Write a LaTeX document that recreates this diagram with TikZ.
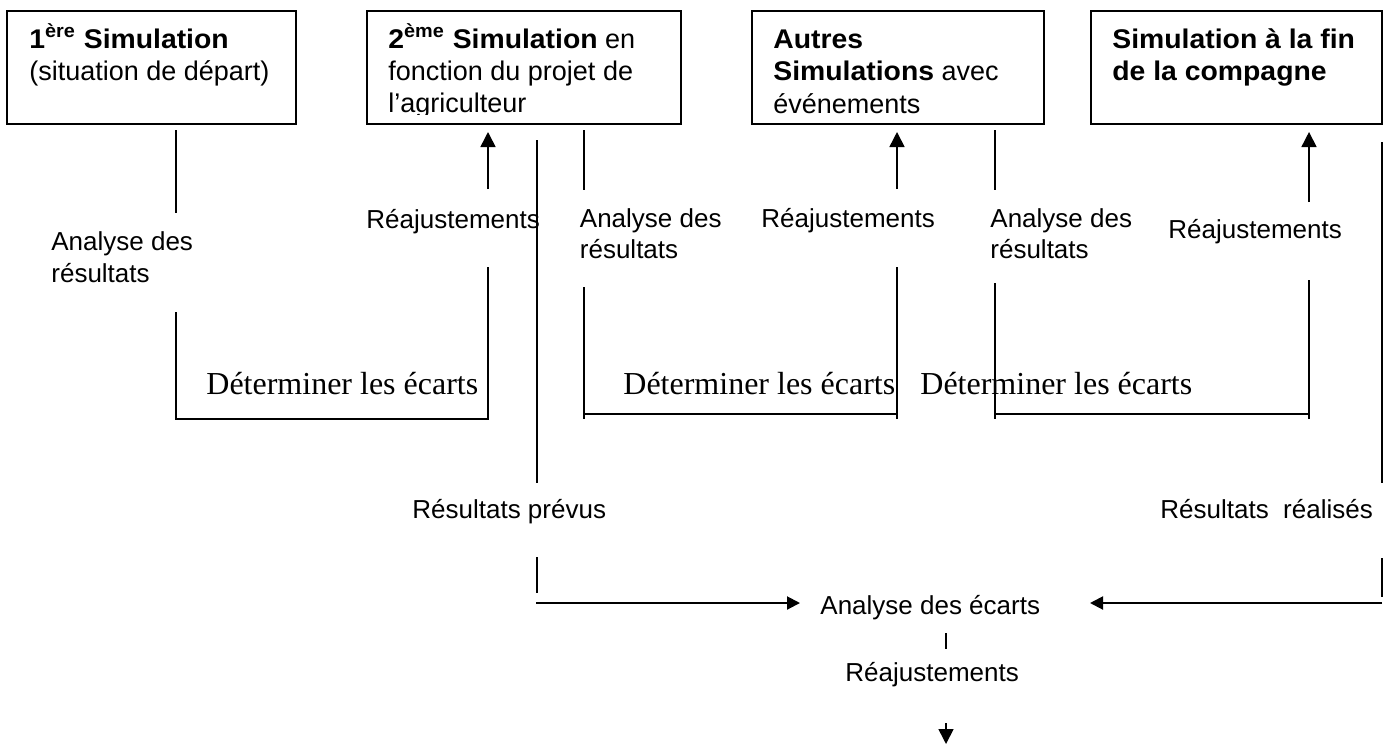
\documentclass[tikz,border=0pt]{standalone}
\usepackage{fontspec}
\setmainfont{Liberation Sans}[BoldFeatures={FakeStretch=1.05}]
\newfontfamily\detfont{Liberation Serif}
\usetikzlibrary{arrows.meta}
\begin{document}
\begin{tikzpicture}[x=0.5pt,y=-0.5pt,
  box/.style={draw, line width=1pt, anchor=north west, inner sep=0pt, outer sep=0pt, minimum height=56.5pt},
  bt/.style={anchor=base west, inner sep=0pt, font=\fontsize{13.5pt}{16pt}\selectfont},
  lab/.style={anchor=base west, inner sep=0pt, font=\fontsize{13pt}{16pt}\selectfont},
  det/.style={anchor=base west, inner sep=0pt, font=\detfont\fontsize{16pt}{19pt}\selectfont},
  ln/.style={line width=0.7pt},
  arr/.style={line width=0.8pt, -{Triangle[length=7.5pt,width=7.5pt]}},
  harr/.style={line width=1pt, -{Triangle[length=6.5pt,width=6.5pt]}}]
\useasboundingbox (0,0) rectangle (1384,745);

% boxes
\node[box, minimum width=144.5pt] (b1) at (7,11) {};
\node[box, minimum width=157pt] (b2) at (367,11) {};
\node[box, minimum width=146pt] (b3) at (752,11) {};
\node[box, minimum width=145.5pt] (b4) at (1091,11) {};

% box texts
\node[bt] (t11) at (29,48) {\textbf{1\textsuperscript{ère} Simulation}};
\node[bt] (t12) at (29,80) {(situation de départ)};
\node[bt] (t21) at (388,48) {\textbf{2\textsuperscript{ème} Simulation} en};
\node[bt] (t22) at (388,80) {fonction du projet de};
\begin{scope}
\clip (367,11) rectangle (681,114);
\node[bt] (t23) at (388,112) {l’agriculteur};
\end{scope}
\node[bt] (t31) at (773,48) {\textbf{Autres}};
\node[bt] (t32) at (773,80.5) {\textbf{Simulations} avec};
\node[bt] (t33) at (773,113) {événements};
\node[bt] (t41) at (1112,48) {\textbf{Simulation à la fin}};
\node[bt] (t42) at (1112,80.5) {\textbf{de la compagne}};

% labels
\node[lab] (an1a) at (51,250) {Analyse des};
\node[lab] (an1b) at (51,282) {résultats};
\node[lab] (re1) at (366,228) {Réajustements};
\node[lab] (an2a) at (579.5,227) {Analyse des};
\node[lab] (an2b) at (579.5,258) {résultats};
\node[lab] (re2) at (761,227) {Réajustements};
\node[lab] (an3a) at (990,227) {Analyse des};
\node[lab] (an3b) at (990,258) {résultats};
\node[lab] (re3) at (1168,238) {Réajustements};
\node[lab] (rp) at (412,518) {Résultats prévus};
\node[lab] (rr) at (1160,518) {Résultats\ \ réalisés};
\node[lab] (ae) at (820,614) {Analyse des écarts};
\node[lab] (re4) at (845,681) {Réajustements};
\node[det] (d1) at (206,394) {Déterminer les écarts};
\node[det] (d2) at (623,394) {Déterminer les écarts};
\node[det] (d3) at (920,394) {Déterminer les écarts};

% coordinates
\coordinate (a1) at (176,130); \coordinate (a2) at (176,213);
\coordinate (a3) at (176,312); \coordinate (a4) at (176,419);
\coordinate (b5) at (488,419); \coordinate (b6) at (488,267);
\coordinate (b7) at (488,189); \coordinate (b8) at (488,132);
\coordinate (c1) at (537,140); \coordinate (c2) at (537,483);
\coordinate (c3) at (537,557); \coordinate (c4) at (537,593);
\coordinate (c5) at (536,603); \coordinate (c6) at (800,603);
\coordinate (e1) at (584,130); \coordinate (e2) at (584,190);
\coordinate (e3) at (584,287); \coordinate (e4) at (584,419);
\coordinate (e5) at (584,414); \coordinate (e6) at (897,414);
\coordinate (f1) at (897,419); \coordinate (f2) at (897,267);
\coordinate (f3) at (897,189); \coordinate (f4) at (897,132);
\coordinate (g1) at (995,130); \coordinate (g2) at (995,190);
\coordinate (g3) at (995,283); \coordinate (g4) at (995,419);
\coordinate (g5) at (995,414); \coordinate (g6) at (1309,414);
\coordinate (h1) at (1309,419); \coordinate (h2) at (1309,280);
\coordinate (h3) at (1309,202); \coordinate (h4) at (1309,132);
\coordinate (k1) at (1382,142); \coordinate (k2) at (1382,483);
\coordinate (k3) at (1382,558); \coordinate (k4) at (1382,597);
\coordinate (k5) at (1382,603); \coordinate (k6) at (1090,603);
\coordinate (m1) at (946,633); \coordinate (m2) at (946,649);
\coordinate (m3) at (946,723); \coordinate (m4) at (946,744);

% connectors
\draw[ln] (a1) -- (a2);
\draw[ln] (a3) -- (a4) -- (b5) -- (b6);
\draw[arr] (b7) -- (b8);
\draw[ln] (c1) -- (c2);
\draw[ln] (c3) -- (c4);
\draw[harr] (c5) -- (c6);
\draw[ln] (e1) -- (e2);
\draw[ln] (e3) -- (e4);
\draw[ln] (e5) -- (e6);
\draw[ln] (f1) -- (f2);
\draw[arr] (f3) -- (f4);
\draw[ln] (g1) -- (g2);
\draw[ln] (g3) -- (g4);
\draw[ln] (g5) -- (g6);
\draw[ln] (h1) -- (h2);
\draw[arr] (h3) -- (h4);
\draw[ln] (k1) -- (k2);
\draw[ln] (k3) -- (k4);
\draw[harr] (k5) -- (k6);
\draw[ln] (m1) -- (m2);
\draw[arr] (m3) -- (m4);
\end{tikzpicture}
\end{document}
